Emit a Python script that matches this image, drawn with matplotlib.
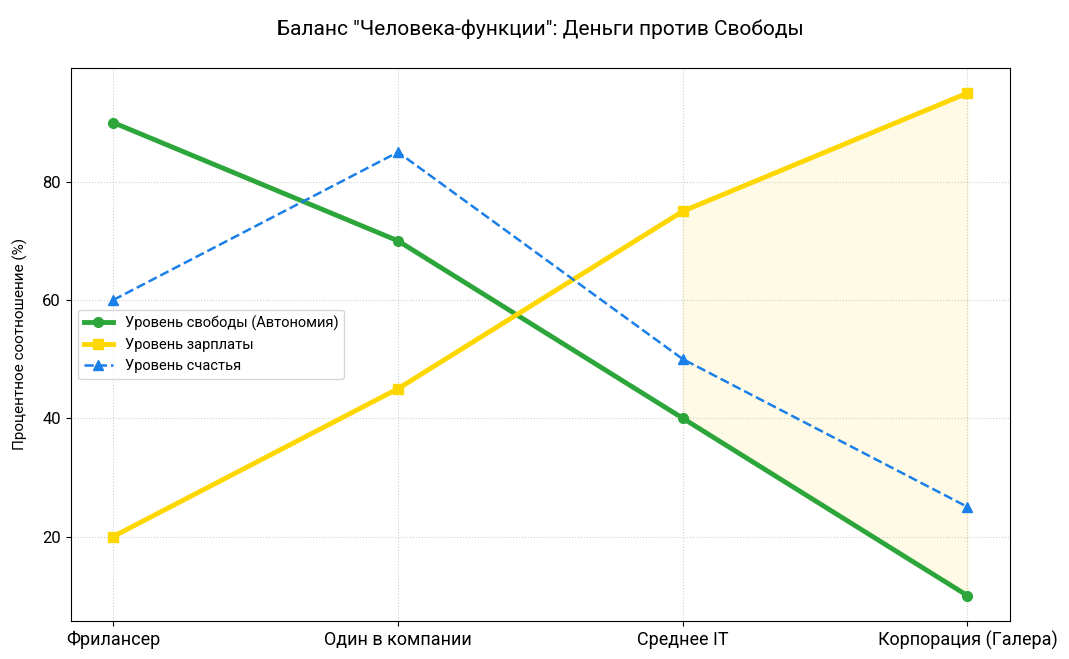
import numpy as np
import matplotlib.pyplot as plt

plt.rcParams['font.family'] = ['Roboto', 'DejaVu Sans']

stages = ["Фрилансер", "Один в компании", "Среднее IT", "Корпорация (Галера)"]
freedom = [90, 70, 40, 10]
salary = [20, 45, 75, 95]
happiness = [60, 85, 50, 25]

x = np.arange(len(stages))

fig, ax = plt.subplots(figsize=(10.69, 6.59), dpi=100)

ax.plot(x, freedom, color="#2ca63a", linewidth=3.5, marker="o", markersize=7,
        label="Уровень свободы (Автономия)")
ax.plot(x, salary, color="#ffd700", linewidth=3.5, marker="s", markersize=7,
        label="Уровень зарплаты")
ax.plot(x, happiness, color="#1a7fe8", linewidth=1.8, linestyle="--", marker="^",
        markersize=6.5, label="Уровень счастья")

# зона "Галеры"
ax.fill_between(x[2:], np.array(freedom)[2:], np.array(salary)[2:],
                color="#ffd700", alpha=0.1)

ax.set_xticks(x)
ax.set_xticklabels(stages, fontsize=13)
ax.tick_params(axis="y", labelsize=12)
ax.set_ylabel("Процентное соотношение (%)", fontsize=11, labelpad=10)
ax.set_title('Баланс "Человека-функции": Деньги против Свободы', fontsize=15, pad=24)
ax.grid(True, linestyle=":", alpha=0.6)
ax.legend(loc="center left", fontsize=10.5)

plt.subplots_adjust(left=0.066, right=0.945, top=0.897, bottom=0.058)
plt.savefig("out.png")
